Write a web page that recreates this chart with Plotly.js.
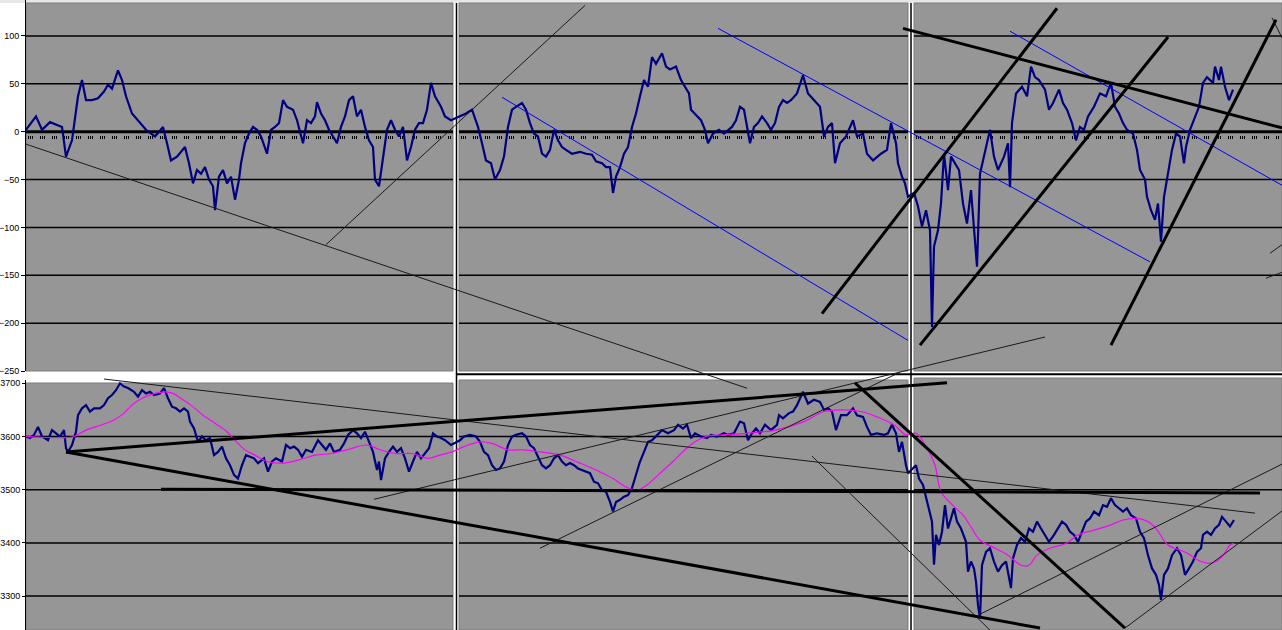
<!DOCTYPE html>
<html><head><meta charset="utf-8">
<script src="https://cdn.plot.ly/plotly-3.0.1.min.js"></script>
<style>html,body{margin:0;padding:0;background:#fff;overflow:hidden}#chart{width:1282px;height:630px}</style>
</head><body><div id="chart"></div>
<script>
// ---------- DATA ----------
// Top panel: spread (points) vs. sample index
const spreadIdx = [0,10,16,24,36,40,46,50,52,56,60,66,72,78,82,86,92,96,100,106,112,120,129,137,141,145,151,159,163,167,171,175,179,183,187,189,193,197,201,205,209,213,215,219,223,227,231,235,241,245,249,253,257,261,267,271,277,281,285,289,291,295,299,303,307,311,315,319,323,327,331,335,339,343,347,349,353,357,361,365,369,373,377,381,385,389,393,397,401,405,409,415,419,425,
434,440,446,452,456,460,465,469,474,478,482,486,490,496,500,504,508,512,516,520,524,528,532,536,540,546,554,560,566,570,576,580,584,587,590,594,598,602,606,610,614,618,622,626,630,636,640,644,650,655,659,663,665,669,675,679,682,687,693,698,702,706,710,714,718,722,724,728,732,736,741,745,749,753,757,761,765,771,777,782,788,794,798,802,806,809,814,820,827,831,837,841,847,851,855,861,865,870,872,876,879,882,
888,892,896,900,904,906,908,912,915,918,922,925,929,933,937,941,945,949,951,954,960,964,968,972,978,982,984,986,990,996,1001,1005,1009,1013,1019,1023,1027,1033,1037,1041,1046,1050,1054,1058,1062,1068,1074,1080,1085,1089,1093,1097,1101,1107,1111,1114,1119,1121,1125,1129,1132,1135,1138,1142,1146,1150,1154,1158,1160,1164,1168,1173,1177,1181,1187,1189,1193,1195,1199,1203,1207];
const spreadVal = [2,16,2,10,5,-26,-9,23,37,54,33,33,35,42,49,45,64,54,37,19,12,2,-5,5,-12,-30,-26,-16,-33,-54,-40,-44,-37,-50,-57,-82,-47,-40,-54,-47,-71,-50,-33,-12,-2,5,2,-5,-23,2,5,9,33,26,23,12,-12,12,9,16,31,19,12,2,-5,-12,5,16,33,37,16,23,5,-9,-16,-50,-57,-26,2,12,2,-5,5,-30,-16,2,9,9,23,51,37,26,16,12,
16,19,23,5,-12,-30,-33,-50,-40,-26,5,23,26,30,23,9,-2,-5,-23,-26,-19,2,-9,-16,-19,-23,-21,-23,-24,-31,-33,-37,-37,-64,-47,-37,-23,-16,5,19,37,54,47,78,71,82,68,65,68,54,47,40,23,19,12,2,-12,-2,2,-2,2,5,12,26,23,2,-12,5,9,16,9,2,9,26,33,30,33,40,59,40,33,26,-5,5,9,-33,-12,-5,12,-5,-2,-23,-30,-26,-23,-19,9,-12,-33,-47,-54,-68,
-64,-78,-99,-82,-103,-204,-120,-103,-75,-23,-61,-26,-33,-40,-75,-96,-61,-113,-141,-44,-16,2,-26,-40,-26,-12,-58,9,40,47,37,68,57,54,44,23,30,44,30,23,9,-9,5,2,16,26,40,37,51,26,19,9,2,-2,-19,-40,-50,-68,-82,-92,-75,-115,-68,-44,-19,-2,-5,-33,-16,2,12,26,51,57,51,68,54,68,47,33,44];

// Bottom panel: price vs. sample index
const priceIdx = [0,4,8,12,16,22,26,30,34,38,40,42,46,50,52,56,60,64,68,74,78,82,86,90,94,98,102,108,112,116,120,124,128,134,138,142,146,150,154,158,162,164,168,172,176,180,184,188,192,196,200,204,208,212,216,220,224,228,232,238,242,246,250,256,260,264,268,272,276,280,286,292,296,300,304,308,314,318,322,327,331,335,339,343,347,351,353,355,359,363,367,371,375,379,383,387,391,395,399,403,407,411,415,419,425,
434,438,444,450,454,458,462,466,470,474,478,482,486,490,496,500,504,508,512,516,520,524,528,532,536,540,544,548,552,556,560,564,568,572,576,580,584,587,590,594,598,602,606,610,614,618,622,626,630,636,642,648,652,657,661,665,669,675,681,685,691,698,702,708,714,718,722,726,730,734,739,745,751,753,757,763,767,771,777,782,788,794,798,802,806,810,815,821,827,831,837,841,845,851,858,862,866,870,873,876,880,882,
890,893,897,900,903,906,908,910,913,916,919,922,925,928,931,935,940,942,945,948,950,952,954,956,960,964,968,972,976,980,985,987,991,995,999,1003,1007,1011,1015,1019,1023,1028,1032,1036,1040,1044,1048,1052,1056,1060,1064,1068,1073,1077,1081,1085,1089,1093,1097,1101,1105,1110,1114,1118,1122,1126,1130,1133,1135,1138,1142,1146,1151,1155,1159,1163,1167,1171,1175,1177,1181,1185,1189,1193,1196,1200,1204,1208];
const priceVal = [3600,3597,3603,3618,3600,3593,3612,3606,3600,3612,3578,3571,3584,3609,3640,3653,3659,3647,3653,3653,3659,3672,3678,3687,3700,3694,3691,3684,3675,3687,3681,3684,3678,3681,3691,3672,3656,3653,3647,3653,3647,3628,3615,3590,3600,3593,3597,3565,3571,3581,3559,3546,3528,3521,3546,3565,3562,3559,3550,3559,3534,3553,3559,3553,3584,3578,3581,3575,3562,3575,3571,3593,3584,3575,3587,3571,3575,3587,3603,3612,3606,3597,3609,3590,3571,3537,3553,3518,3559,3571,3581,3571,3578,3559,3534,3553,3571,3559,3568,3578,3606,3600,3597,3593,3584,
3593,3600,3603,3600,3590,3571,3565,3546,3537,3540,3553,3584,3600,3603,3606,3600,3584,3578,3562,3546,3540,3546,3559,3565,3553,3546,3550,3546,3540,3537,3534,3531,3515,3512,3499,3496,3477,3459,3477,3481,3487,3490,3503,3528,3553,3571,3590,3593,3600,3612,3606,3612,3622,3615,3622,3597,3606,3600,3597,3603,3600,3606,3603,3606,3628,3625,3593,3606,3615,3606,3622,3612,3622,3640,3634,3644,3647,3659,3684,3662,3669,3665,3650,3653,3647,3612,3640,3640,3653,3640,3637,3618,3603,3606,3603,3606,3622,3606,3571,3590,3546,3531,
3546,3521,3509,3484,3465,3440,3359,3415,3396,3421,3471,3427,3446,3465,3440,3427,3402,3346,3365,3352,3327,3283,3258,3358,3383,3390,3365,3346,3358,3365,3315,3371,3396,3409,3402,3427,3421,3440,3427,3415,3402,3415,3427,3440,3434,3421,3415,3402,3421,3440,3446,3459,3452,3471,3468,3484,3471,3465,3459,3465,3452,3446,3421,3409,3377,3352,3340,3321,3293,3340,3352,3377,3390,3377,3340,3352,3365,3383,3390,3415,3421,3415,3427,3434,3449,3440,3431,3443];

// Bottom panel: moving average of price
const maIdx = [0,40,48,60,76,88,98,106,116,129,139,147,157,165,177,189,201,209,219,229,241,257,273,289,305,321,341,354,370,386,402,414,426,438,454,466,482,498,514,534,554,570,587,599,611,621,630,647,659,669,680,696,720,749,778,798,819,835,851,868,880,890,901,909,915,925,937,946,954,966,982,995,1003,1011,1024,1040,1052,1068,1085,1097,1110,1122,1130,1142,1159,1175,1185,1196,1204,1208];
const maVal = [3600,3598,3600,3612,3622,3631,3644,3659,3672,3681,3684,3681,3669,3659,3640,3625,3609,3593,3575,3565,3553,3550,3556,3565,3568,3575,3584,3575,3568,3568,3559,3565,3571,3581,3590,3587,3575,3575,3571,3565,3550,3537,3521,3506,3499,3509,3524,3553,3575,3590,3600,3603,3606,3612,3628,3647,3650,3647,3637,3622,3603,3606,3578,3546,3496,3474,3452,3427,3405,3393,3377,3358,3358,3377,3390,3399,3415,3424,3434,3443,3446,3440,3427,3396,3383,3365,3362,3374,3396,3399];

// Axis tick labels
const spreadTicks = [100, 50, 0, -50, -100, -150, -200, -250];
const priceTicks = [3700, 3600, 3500, 3400, 3300];

// Hand-drawn trend lines: [idx0, value0, idx1, value1]
const spreadThinLines = [[0,-13,721,-268],[300,-118,559,132],[1246,119,1256,98],[1244,-127,1256,-118],[1240,-153,1256,-147]];
const spreadBlueLines = [[476,36,882,-218],[692,108,1124,-136],[984,105,1256,-56]];
const spreadThickLines = [[877,108,1256,4],[796,-190,1031,129],[894,-223,1142,99],[1085,-223,1250,117]];
const priceThinLines = [[78,3708,1229,3456],[348,3482,1019,3787],[514,3390,874,3721],[786,3563,964,3236],[954,3266,1256,3548],[1099,3240,1256,3460]];
const priceThickLines = [[40,3571,921,3701],[40,3571,1014,3240],[135,3501,1234,3494],[829,3701,1099,3240]];

// ---------- LAYOUT GEOMETRY ----------
const W = 1282, H = 630, ML = 26;
const topDomain = [1 - 371 / H, 1];
const topRange = [-250, 137.6];
const botDomain = [0, 250 / H];
const botRange = [3236.3, 3706.2];
const GRAY = '#969696';

function toPaper(v, dom, rng) { return dom[0] + (v - rng[0]) / (rng[1] - rng[0]) * (dom[1] - dom[0]); }
const topPaper = v => toPaper(v, topDomain, topRange);
const botPaper = p => toPaper(p, botDomain, botRange);
const fx = px => (px - ML) / (W - ML);
const fy = py => 1 - py / H;
const pyOf = paper => (1 - paper) * H;

// chart windows [x0, x1, yTop, yBottom] in pixels; first three = top panel
const frames = [[26,453,3,371],[459,908,3,371],[914,1282,3,371],[26,453,383,630],[459,908,380,630],[914,1282,378,630]];

const shapes = [];
// header strip
shapes.push({type:'rect', xref:'paper', yref:'paper', x0:fx(0), x1:fx(W), y0:fy(0), y1:fy(3), fillcolor:'#e6e6e6', line:{width:0}, layer:'below'});
frames.forEach((f, i) => {
  shapes.push({type:'rect', xref:'paper', yref:'paper', x0:fx(f[0]), x1:fx(f[1]), y0:fy(f[3]), y1:fy(f[2]),
    fillcolor:GRAY, line:{color:'#7d7d7d', width:1}, layer:'below'});
  const isTop = i < 3;
  const ticks = isTop ? spreadTicks : priceTicks;
  const conv = isTop ? topPaper : botPaper;
  ticks.forEach(t => {
    const p = conv(t), py = pyOf(p);
    if (py > f[2] + 8 && py < f[3] - 1) {
      shapes.push({type:'line', xref:'paper', yref:'paper', x0:fx(f[0]), x1:fx(f[1]), y0:p, y1:p,
        line:{color:'#000', width: t === 0 ? 3 : 1.5}, layer:'below'});
    }
  });
  if (isTop) {
    const p = topPaper(-6);
    shapes.push({type:'line', xref:'paper', yref:'paper', x0:fx(f[0] + 2), x1:fx(f[1] - 2), y0:p, y1:p,
      line:{color:'#000', width:3, dash:'1px,1px,1px,1px,1px,7px'}, layer:'below'});
  }
});
// window separators
[456.5, 911].forEach(x => shapes.push({type:'line', xref:'paper', yref:'paper', x0:fx(x), x1:fx(x), y0:fy(3), y1:fy(H),
  line:{color:'#000', width:1.5}, layer:'below'}));
shapes.push({type:'line', xref:'paper', yref:'paper', x0:fx(457), x1:fx(W), y0:fy(374.3), y1:fy(374.3), line:{color:'#000', width:2}, layer:'below'});

// ---------- TRACES ----------
function segTrace(lines, conv, color, width) {
  const x = [], y = [];
  lines.forEach(l => { x.push(l[0], l[2], null); y.push(conv(l[1]), conv(l[3]), null); });
  return {x, y, xaxis:'x', yaxis:'y3', mode:'lines', line:{color, width}, hoverinfo:'skip', connectgaps:false};
}

const traces = [
  {x:spreadIdx, y:spreadVal, xaxis:'x', yaxis:'y', mode:'lines', line:{color:'#000080', width:2.2}, hoverinfo:'skip'},
  {x:priceIdx, y:priceVal, xaxis:'x', yaxis:'y2', mode:'lines', line:{color:'#000080', width:2.2}, hoverinfo:'skip'},
  {x:maIdx, y:maVal, xaxis:'x', yaxis:'y2', mode:'lines', line:{color:'#ff00ff', width:1.2, shape:'spline'}, hoverinfo:'skip'},
  segTrace(spreadBlueLines, topPaper, '#0000ff', 1),
  segTrace(spreadThinLines, topPaper, '#1a1a1a', 1),
  segTrace(priceThinLines, botPaper, '#1a1a1a', 1),
  segTrace(spreadThickLines, topPaper, '#000000', 3),
  segTrace(priceThickLines, botPaper, '#000000', 3)
];

const axisFont = {family:'Liberation Sans, Arial, sans-serif', color:'#000'};
const layout = {
  width: W, height: H,
  margin: {l: ML, r: 0, t: 0, b: 0, pad: 0},
  paper_bgcolor: '#ffffff', plot_bgcolor: 'rgba(0,0,0,0)',
  showlegend: false,
  xaxis: {domain:[0,1], range:[0, W - ML], visible:false, fixedrange:true},
  yaxis: {domain: topDomain, range: topRange, tickvals: spreadTicks, ticks:'outside', ticklen:4, tickcolor:'#000',
    showline:true, linecolor:'#000', linewidth:1, showgrid:false, zeroline:false, fixedrange:true,
    tickfont: Object.assign({size:9}, axisFont)},
  yaxis2: {domain: botDomain, range: botRange, tickvals: priceTicks, ticks:'outside', ticklen:3, tickcolor:'#000',
    showline:true, linecolor:'#000', linewidth:1, showgrid:false, zeroline:false, fixedrange:true,
    tickfont: Object.assign({size:9}, axisFont)},
  yaxis3: {domain:[0,1], range:[0,1], visible:false, fixedrange:true},
  shapes: shapes
};

Plotly.newPlot('chart', traces, layout, {staticPlot:true, displayModeBar:false});
</script>
</body></html>
